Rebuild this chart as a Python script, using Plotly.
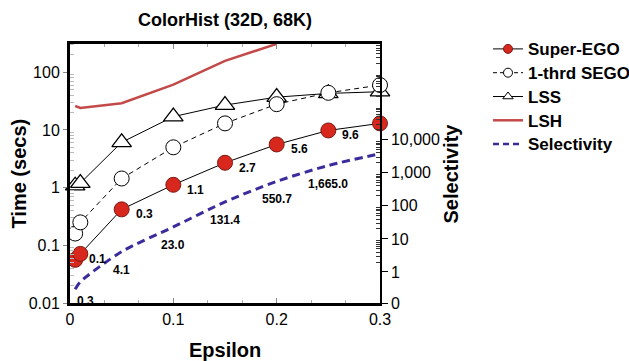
import math
import plotly.graph_objects as go

# ---------------- data ----------------
eps = [0.005, 0.01, 0.05, 0.1, 0.15, 0.2, 0.25, 0.3]
super_ego = [0.056, 0.071, 0.42, 1.12, 2.7, 5.6, 9.8, 13.0]
super_ego_labels = ["", "0.1", "0.3", "1.1", "2.7", "5.6", "9.6", ""]
one_third_sego = [0.16, 0.25, 1.44, 5.0, 13.0, 28.0, 44.0, 60.0]
lss = [1.08, 1.2, 6.1, 17.0, 27.0, 37.0, 43.0, 46.0]
eps_lsh = [0.005, 0.01, 0.05, 0.1, 0.15, 0.2]
lsh = [26.0, 24.0, 29.0, 61.0, 158.0, 310.0]
eps_sel = [0.005, 0.01, 0.05, 0.1, 0.15, 0.2, 0.25, 0.3]
selectivity = [0.3, 0.5, 4.1, 23.0, 131.4, 550.7, 1665.0, 3800.0]
sel_labels = ["0.3", "", "4.1", "23.0", "131.4", "550.7", "1,665.0", ""]

x_ticks = [0, 0.1, 0.2, 0.3]
x_ticktext = ["0", "0.1", "0.2", "0.3"]
y_ticks = [0.01, 0.1, 1, 10, 100]
y_ticktext = ["0.01", "0.1", "1", "10", "100"]
y2_bottom_log = -0.94
y2_ticks = [10 ** y2_bottom_log, 1, 10, 100, 1000, 10000]
y2_ticktext = ["0", "1", "10", "100", "1,000", "10,000"]

# ---------------- style ----------------
FONT = "Liberation Sans, Arial, sans-serif"
RED = "#d8281e"
RED_EDGE = "#7a1a12"
LSH_COLOR = "#c24a48"
BLUE = "#3a2c9c"

fig = go.Figure()

# Selectivity (right axis)
fig.add_trace(go.Scatter(x=eps_sel, y=selectivity, yaxis="y2", mode="lines",
                         line=dict(color=BLUE, width=3, dash="8px,5px", shape="spline", smoothing=0.8),
                         showlegend=False, cliponaxis=False))
# LSH
fig.add_trace(go.Scatter(x=eps_lsh, y=lsh, mode="lines",
                         line=dict(color=LSH_COLOR, width=2.5), showlegend=False))
# LSS
fig.add_trace(go.Scatter(x=eps, y=lss, mode="lines+markers",
                         line=dict(color="black", width=1),
                         marker=dict(symbol="triangle-up", size=17, color="white",
                                     line=dict(color="black", width=1.3)),
                         showlegend=False, cliponaxis=False))
# 1-thrd SEGO
fig.add_trace(go.Scatter(x=eps, y=one_third_sego, mode="lines+markers",
                         line=dict(color="black", width=1, dash="5px,4px"),
                         marker=dict(symbol="circle", size=15, color="white",
                                     line=dict(color="black", width=1)),
                         showlegend=False, cliponaxis=False))
# Super-EGO
fig.add_trace(go.Scatter(x=eps, y=super_ego, mode="lines+markers",
                         line=dict(color="black", width=1),
                         marker=dict(symbol="circle", size=15, color=RED,
                                     line=dict(color=RED_EDGE, width=1)),
                         showlegend=False, cliponaxis=False))

# legend-only traces
def lname(s):
    return '<span style="font-size:17px"><b>%s</b></span>' % s

leg = [
    ("Super-EGO", dict(color="black", width=1), dict(symbol="circle", size=9, color=RED, line=dict(color=RED_EDGE, width=1)), "lines+markers"),
    ("1-thrd SEGO", dict(color="black", width=1, dash="4px,3px"), dict(symbol="circle", size=9, color="white", line=dict(color="black", width=1)), "lines+markers"),
    ("LSS", dict(color="black", width=1), dict(symbol="triangle-up", size=9, color="white", line=dict(color="black", width=1)), "lines+markers"),
    ("LSH", dict(color=LSH_COLOR, width=2.5), None, "lines"),
    ("Selectivity", dict(color=BLUE, width=2.5, dash="6px,4px"), None, "lines"),
]
for name, ln, mk, mode in leg:
    kw = dict(x=[None], y=[None], mode=mode, name=lname(name), line=ln, showlegend=True)
    if mk:
        kw["marker"] = mk
    fig.add_trace(go.Scatter(**kw))

annotations = []
for i, (xv, yv, t) in enumerate(zip(eps, super_ego, super_ego_labels)):
    if t:
        annotations.append(dict(x=xv, y=math.log10(yv), xref="x", yref="y", text="<b>%s</b>" % t,
                                showarrow=False, xanchor="left", yanchor="middle",
                                xshift=7 if i == 1 else 12, yshift=-5,
                                font=dict(family=FONT, size=12, color="black")))
for i, (xv, yv, t) in enumerate(zip(eps_sel, selectivity, sel_labels)):
    if t:
        if i == 0:
            xs, ys, xa = 0, -3, "left"
        else:
            xs, ys, xa = 0, -9, "center"
        annotations.append(dict(x=xv, y=math.log10(yv), xref="x", yref="y2", text="<b>%s</b>" % t,
                                showarrow=False, xanchor=xa, yanchor="top",
                                xshift=xs, yshift=ys, font=dict(family=FONT, size=12, color="black")))

annotations += [
    dict(x=0, y=0.5, xref="paper", yref="paper", text="<b>Time (secs)</b>", textangle=-90,
         showarrow=False, xanchor="center", yanchor="middle", xshift=-52,
         font=dict(family=FONT, size=20, color="black")),
    dict(x=1, y=0.5, xref="paper", yref="paper", text="<b>Selectivity</b>", textangle=-90,
         showarrow=False, xanchor="center", yanchor="middle", xshift=70,
         font=dict(family=FONT, size=20, color="black")),
    dict(x=0.5, y=0, xref="paper", yref="paper", text="<b>Epsilon</b>",
         showarrow=False, xanchor="center", yanchor="middle", yshift=-47,
         font=dict(family=FONT, size=20, color="black")),
]

y_minor = [m * 10 ** d for d in range(-2, 3) for m in range(2, 10)]
y2_minor = [m * 10 ** d for d in range(0, 7) for m in range(2, 10)]

fig.update_layout(
    width=629, height=361,
    margin=dict(l=70, r=249, t=44, b=58, autoexpand=False),
    paper_bgcolor="white", plot_bgcolor="white",
    font=dict(family=FONT, size=16, color="black"),
    title=dict(text="<b>ColorHist (32D, 68K)</b>", x=225 / 629, xanchor="center",
               y=1 - 20 / 361, yanchor="middle", font=dict(family=FONT, size=18, color="black")),
    xaxis=dict(range=[0, 0.3], tickvals=x_ticks, ticktext=x_ticktext, automargin=False,
               showline=True, linecolor="black", linewidth=2.5, mirror="ticks",
               ticks="inside", ticklen=5, tickcolor="#888", tickwidth=1,
               minor=dict(dtick=0.1 / 3, ticks="inside", ticklen=3, tickcolor="#aaa"),
               showgrid=False, zeroline=False, tickfont=dict(size=16)),
    yaxis=dict(type="log", range=[-2, 2.49], tickvals=y_ticks, ticktext=y_ticktext, automargin=False,
               showline=True, linecolor="black", linewidth=3,
               ticks="outside", ticklen=4, tickcolor="#888",
               minor=dict(tickvals=y_minor, ticks="inside", ticklen=4, tickcolor="#bbb", showgrid=False),
               showgrid=False, zeroline=False, tickfont=dict(size=16)),
    yaxis2=dict(type="log", range=[y2_bottom_log, 6.9], overlaying="y", side="right", automargin=False,
                tickvals=y2_ticks, ticktext=y2_ticktext,
                showline=True, linecolor="black", linewidth=1.5,
                ticks="outside", ticklen=6, tickcolor="black", tickwidth=1.2,
                minor=dict(tickvals=y2_minor, ticks="inside", ticklen=4, tickcolor="#333", tickwidth=1),
                showgrid=False, zeroline=False, tickfont=dict(size=16)),
    legend=dict(xref="container", yref="container", x=488 / 629, xanchor="left",
                y=1 - 32 / 361, yanchor="top",
                font=dict(family=FONT, size=16, color="black"),
                bgcolor="rgba(0,0,0,0)", tracegroupgap=0, itemwidth=30),
    annotations=annotations,
)

fig.write_html("out.html")
